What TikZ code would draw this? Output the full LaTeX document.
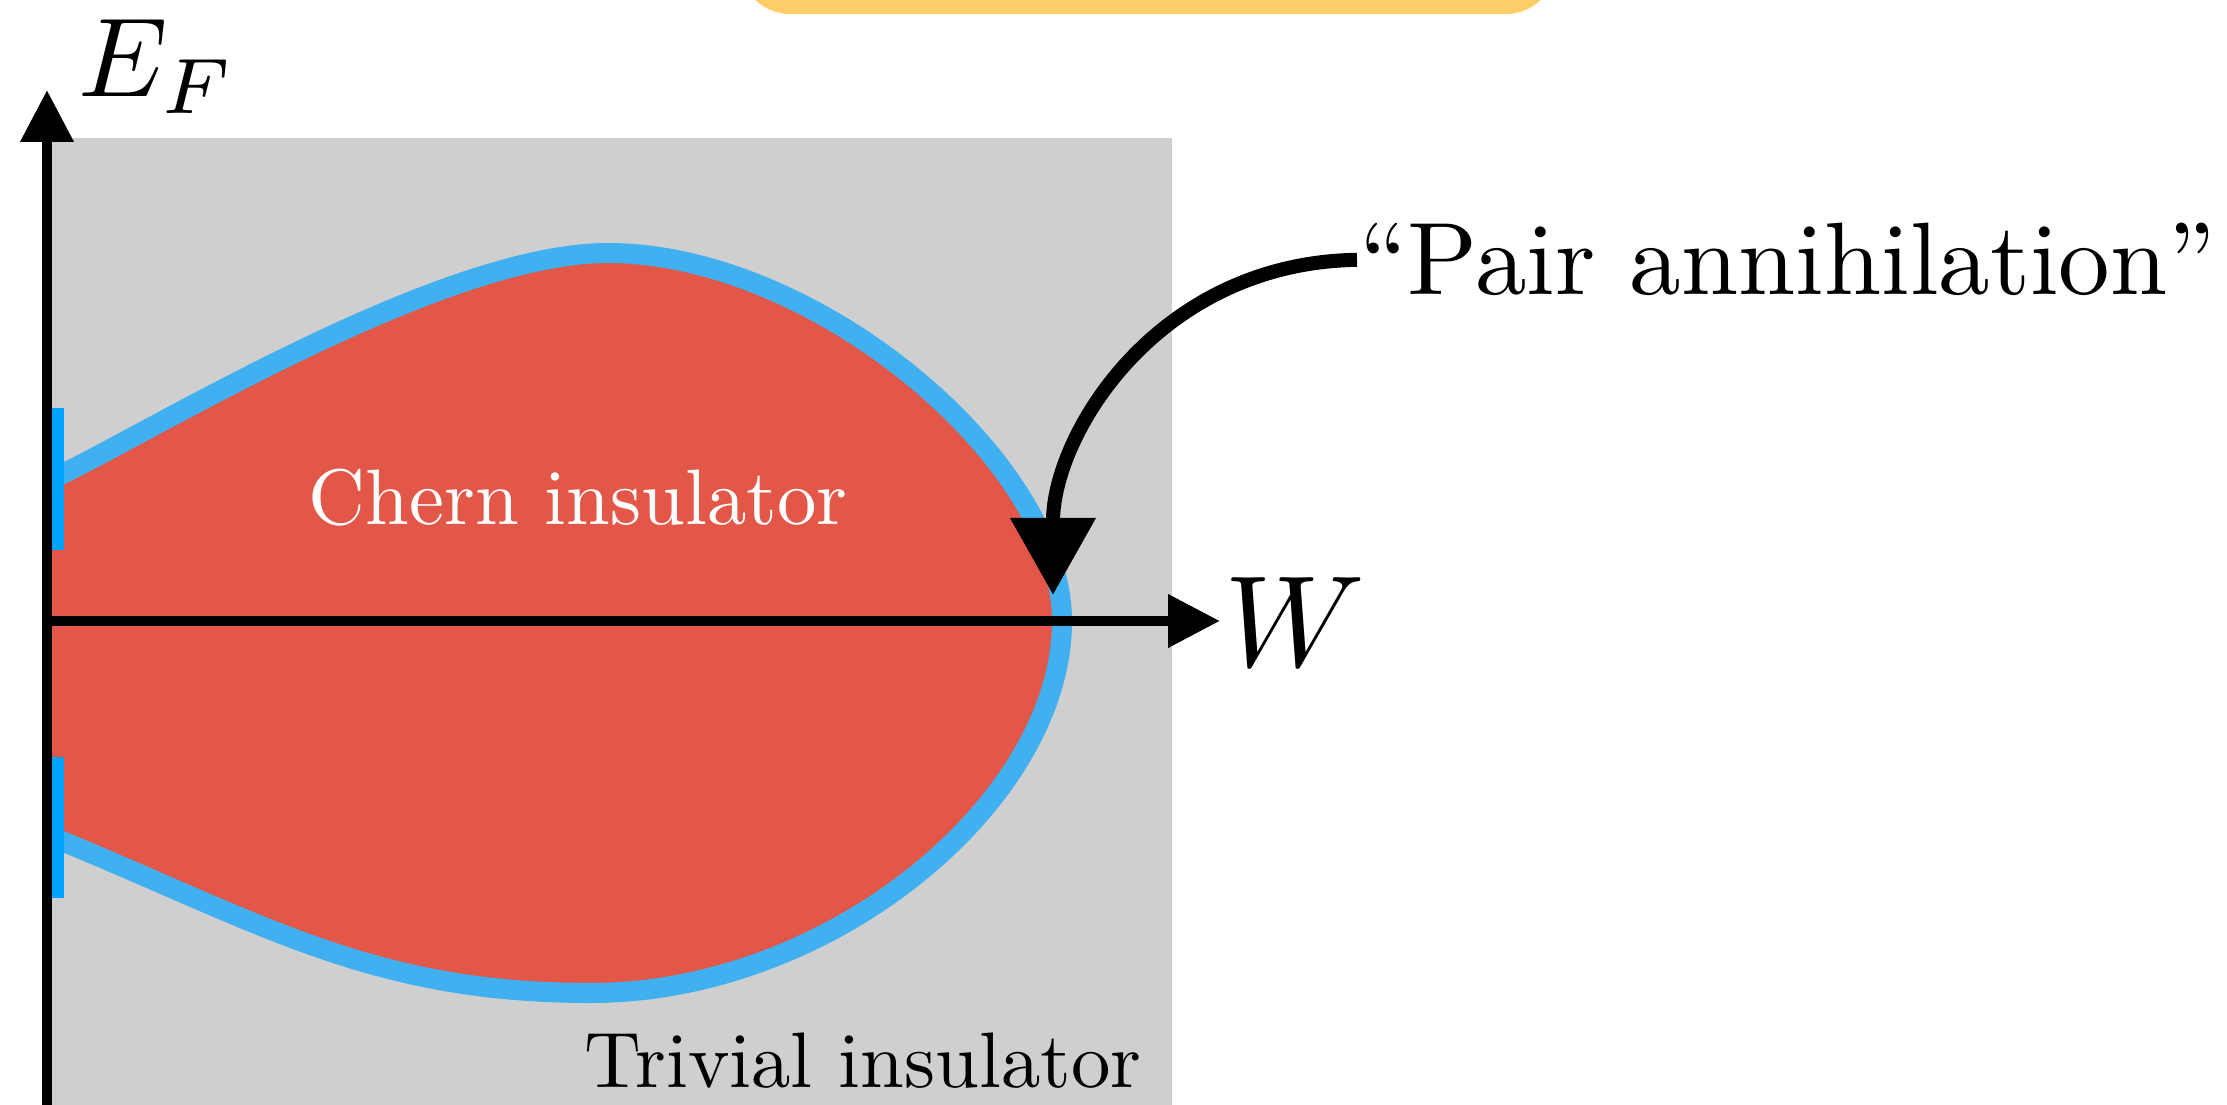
\documentclass[tikz,border=0pt]{standalone}
\usetikzlibrary{arrows.meta}
\definecolor{chernColor}{RGB}{227, 87, 73}
\definecolor{edgeColor}{RGB}{64, 176, 240}
\definecolor{tickColor}{RGB}{0, 162, 255}
\definecolor{trivColor}{RGB}{207, 207, 207}
\definecolor{boxColor}{RGB}{254, 206, 104}

\begin{document}
\begin{tikzpicture}[
    axis line/.style={line width=3pt, -{Triangle[length=0.52cm, width=0.51cm]}},
    edge line/.style={line width=5.7pt, edgeColor},
    edge tick/.style={line width=0.12cm, tickColor},
    lbl/.style={inner sep=0pt, font=\fontsize{10}{12}\selectfont},
    pointer/.style={line width=4pt, -{Triangle[length=0.77cm, width=0.82cm]}},
]

% ---- layout parameters ----
\def\xO{0.47}       % x of the E_F axis
\def\yO{4.84}       % y of the W axis
\def\xR{10.62}      % rightmost point of the lobe
\def\yTop{8.52}     % top of the lobe
\def\yBot{1.12}     % bottom of the lobe

\useasboundingbox (0,0) rectangle (22.27,11.05);

% ---- box peeking in at the top ----
\begin{scope}
    \clip (0,0) rectangle (22.27,11.05);
    \fill[boxColor, rounded corners=0.5cm] (7.40,10.91) rectangle (15.56,11.9);
\end{scope}

% ---- trivial region ----
\fill[trivColor] (0.50,0) rectangle (11.72,9.67);

% ---- Chern lobe ----
\draw[edge line, fill=chernColor] (0.52,6.26)
    .. controls (1.50,6.72) and (4.40,\yTop) .. (6.08,\yTop)
    .. controls (8.15,\yTop) and (\xR,6.45) .. (\xR,\yO)
    .. controls (\xR,3.04) and (8.31,\yBot) .. (5.91,\yBot)
    .. controls (3.71,\yBot) and (2.64,1.81) .. (0.52,2.68);

% edge state ticks on the E_F axis
\draw[edge tick] (0.58,5.55) -- (0.58,6.97);
\draw[edge tick] (0.58,2.07) -- (0.58,3.48);

% ---- axes ----
\coordinate (O) at (\xO,\yO);
\coordinate (efStart) at (\xO,0);
\coordinate (efEnd) at (\xO,10.15);
\coordinate (wEnd) at (12.20,\yO);
\draw[axis line] (efStart) -- (efEnd);
\draw[axis line] (O) -- (wEnd);

\node[lbl, scale=3.2, anchor=base west] (ef) at (0.76,10.08) {$E_F$};
\node[lbl, scale=3.7, anchor=base west] (w) at (12.22,4.38) {$W$};

% ---- region labels ----
\node[lbl, scale=2.24, anchor=base west, white] (chern) at (3.07,5.80)
    {Chern insulator};
\node[lbl, scale=2.24, anchor=base east] (trivial) at (11.43,0.17)
    {Trivial insulator};

% ---- pair annihilation ----
\node[lbl, scale=2.93, anchor=base west] (pair) at (13.57,8.10)
    {``Pair annihilation''};
\coordinate (hit) at (10.53,5.10);
\draw[pointer] (pair.west) .. controls +(-2.0,-0.03) and +(0,1.6) .. (hit);

\end{tikzpicture}
\end{document}
